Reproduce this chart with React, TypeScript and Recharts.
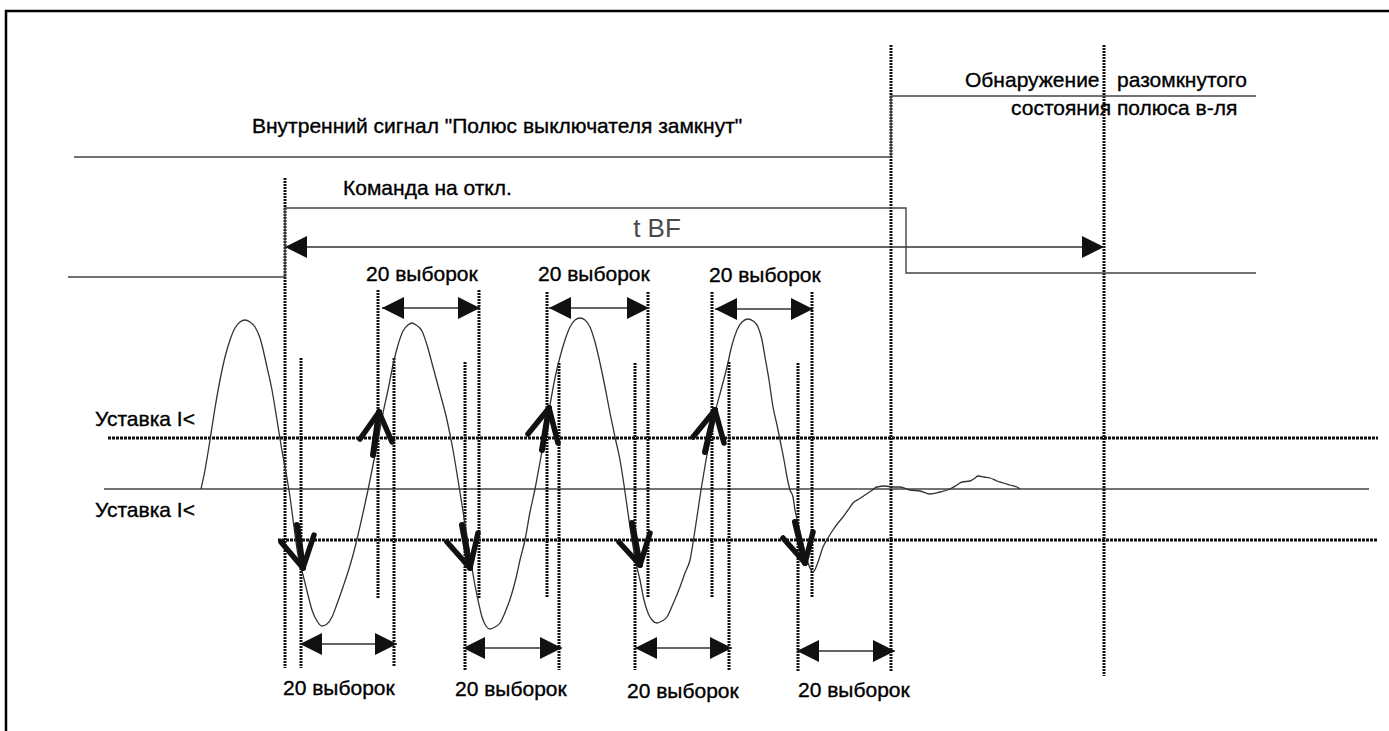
import React from 'react';
import { LineChart, Line, XAxis, YAxis, ReferenceLine, ReferenceDot } from 'recharts';

const W = 1389;
const H = 731;
const T_DOMAIN: [number, number] = [0, 1389];
const I_DOMAIN: [number, number] = [-242, 489];

// measured current waveform (time units, current units; 0 = baseline)
const waveT = [201,205,210,215,220,225,230,235,240,245,250,255,260,267,272,277,281,285,290,294,298,303,308,312,317,322,327,332,337,343,348,353,358,363,368,373,378,383,388,393,398,403,408,412,416,422,427,433,440,447,453,458,462,466,470,474,478,482,486,490,495,500,506,512,516,520,525,530,535,540,545,550,555,560,565,570,575,580,585,590,595,600,605,610,615,620,624,628,632,636,640,644,648,652,657,662,667,673,680,685,690,695,701,706,710,715,721,727,732,737,742,748,753,758,762,765,769,773,777,780,784,787,790,793,795,798,802,806,810,813,818,823,828,833,838,843,848,853,859,865,871,877,885,893,900,910,920,930,940,950,957,962,970,975,978,984,990,997,1003,1010,1017,1020];
const waveI = [0,19,49,81,109,132,149,161,167,169,167,162,151,122,99,69,44,22,-8,-38,-66,-86,-106,-121,-132,-137,-135,-128,-115,-98,-83,-66,-46,-24,-1,24,49,76,99,124,144,158,164,166,164,158,144,122,96,69,39,9,-16,-41,-66,-91,-111,-128,-137,-140,-138,-134,-121,-104,-89,-71,-51,-23,0,27,54,84,111,132,149,162,169,171,169,162,147,126,102,76,52,29,4,-24,-51,-74,-91,-111,-124,-131,-134,-132,-128,-115,-98,-84,-71,-41,-1,29,51,76,99,122,144,159,167,170,168,162,149,132,109,82,64,49,29,12,-1,-8,-21,-34,-51,-67,-79,-83,-73,-58,-49,-41,-34,-28,-21,-14,-10,-6,-2,2,3,2,2,-1,-2,-5,-3,0,4,7,8,11,13,12,11,8,6,4,2,0];

// setpoints
const SETPOINT_HIGH = 51;
const SETPOINT_LOW = -51;
const highSetpointSpan = [108, 1378];
const lowSetpointSpan = [278, 1378];
const zeroSpan = [104, 1369];

// binary signals
const poleClosedT = [74, 891, 891, 1256];
const poleClosedI = [332, 332, 393, 393];
const tripCmdT = [68, 285, 285, 906, 906, 1256];
const tripCmdI = [212, 212, 281, 281, 216, 216];

// vertical marker instants
const markerT = [285, 301, 378, 394, 465, 479, 547, 559, 635, 648, 712, 729, 798, 812, 891, 1104];
const markerTop = [311, 131, 199, 131, 127, 199, 197, 126, 126, 197, 197, 127, 126, 197, 444, 444];
const markerBottom = [-179, -179, -109, -178, -181, -109, -109, -181, -181, -109, -109, -181, -183, -109, -183, -187];

// double-headed interval arrows
const spanStart = [285, 382, 549, 715, 300, 463, 635, 797];
const spanEnd = [1104, 480, 649, 813, 397, 562, 732, 895];
const spanLevel = [242, 181, 181, 180, -155, -159, -159, -162];

// threshold-crossing arrows (tip, tail, left barb, right barb)
const crossTipT = [379, 549, 715, 303, 470, 640, 805];
const crossTipI = [77, 81, 79, -79, -79, -76, -74];
const crossTailT = [373, 542, 705, 297, 462, 632, 795];
const crossTailI = [34, 39, 37, -36, -36, -34, -33];
const crossLeftT = [360, 528, 693, 281, 447, 619, 783];
const crossLeftI = [50, 55, 52, -53, -53, -53, -49];
const crossRightT = [392, 558, 724, 314, 478, 650, 813];
const crossRightI = [47, 46, 46, -46, -44, -44, -43];

// text labels
const labelText = [
  'Внутренний сигнал "Полюс выключателя замкнут"',
  'Команда на откл.',
  'Обнаружение\u00A0\u00A0 разомкнутого',
  'состояния полюса в-ля',
  'Уставка I<',
  'Уставка I<',
  '20 выборок',
  '20 выборок',
  '20 выборок',
  '20 выборок',
  '20 выборок',
  '20 выборок',
  '20 выборок',
];
const labelT = [252, 343, 965, 1011, 95, 95, 366, 538, 709, 283, 455, 627, 798];
const labelI = [356, 294, 402, 374, 63, -28, 208, 208, 207, -206, -207, -209, -208];
const tbfText = 't BF';
const tbfT = 657;
const tbfI = 252;

const FONT = '"Liberation Sans", Arial, Helvetica, sans-serif';
const toPts = (ts: number[], is: number[]) => ts.map((t, k) => ({ x: t, y: is[k] }));

const waveData = toPts(waveT, waveI);
const poleData = toPts(poleClosedT, poleClosedI);
const tripData = toPts(tripCmdT, tripCmdI);

const headShape = (dir: 'left' | 'right') => (p: any) => {
  const cx = p.cx, cy = p.cy;
  const L = 22, h = 11;
  const bx = dir === 'left' ? cx + L : cx - L;
  return <polygon points={`${cx},${cy} ${bx},${cy - h} ${bx},${cy + h}`} fill="#111" />;
};

const textShape = (text: string, size: number, anchor: string, fill: string, sw: number) => (p: any) => (
  <text x={p.cx} y={p.cy} fontFamily={FONT} fontSize={size} textAnchor={anchor} fill={fill} stroke={fill} strokeWidth={sw} style={{ whiteSpace: 'pre' }}>
    {text}
  </text>
);

export default function App() {
  return (
    <div style={{ position: 'absolute', left: 0, top: 0, width: W, height: H, background: '#fff' }}>
      <LineChart width={W} height={H} margin={{ top: 0, right: 0, bottom: 0, left: 0 }}>
        <XAxis type="number" dataKey="x" domain={T_DOMAIN} hide allowDataOverflow />
        <YAxis type="number" dataKey="y" domain={I_DOMAIN} hide allowDataOverflow />

        {/* frame */}
        <ReferenceLine segment={[{ x: 6, y: 479 }, { x: 6, y: -242 }]} stroke="#000" strokeWidth={2.5} />
        <ReferenceLine segment={[{ x: 5, y: 478 }, { x: 1389, y: 478 }]} stroke="#000" strokeWidth={2.5} />

        {/* baseline and setpoints */}
        <ReferenceLine segment={[{ x: zeroSpan[0], y: 0 }, { x: zeroSpan[1], y: 0 }]} stroke="#444" strokeWidth={1.3} />
        <ReferenceLine segment={[{ x: highSetpointSpan[0], y: SETPOINT_HIGH }, { x: highSetpointSpan[1], y: SETPOINT_HIGH }]} stroke="#111" strokeWidth={3} strokeDasharray="3 1" />
        <ReferenceLine segment={[{ x: lowSetpointSpan[0], y: SETPOINT_LOW }, { x: lowSetpointSpan[1], y: SETPOINT_LOW }]} stroke="#111" strokeWidth={3} strokeDasharray="3 1" />

        {/* vertical markers */}
        {markerT.map((t, k) => (
          <ReferenceLine key={'m' + k} segment={[{ x: t, y: markerTop[k] }, { x: t, y: markerBottom[k] }]} stroke="#111" strokeWidth={3} strokeDasharray="2 1" />
        ))}

        <Line data={poleData} dataKey="y" type="linear" stroke="#444" strokeWidth={1.4} dot={false} activeDot={false} isAnimationActive={false} />
        <Line data={tripData} dataKey="y" type="linear" stroke="#444" strokeWidth={1.4} dot={false} activeDot={false} isAnimationActive={false} />
        <Line data={waveData} dataKey="y" type="monotone" stroke="#333" strokeWidth={1.3} dot={false} activeDot={false} isAnimationActive={false} />

        {/* interval arrows */}
        {spanStart.map((s, k) => (
          <ReferenceLine key={'s' + k} segment={[{ x: s, y: spanLevel[k] }, { x: spanEnd[k], y: spanLevel[k] }]} stroke="#333" strokeWidth={1.5} />
        ))}
        {spanStart.map((s, k) => (
          <ReferenceDot key={'hl' + k} x={s} y={spanLevel[k]} r={0} shape={headShape('left')} />
        ))}
        {spanEnd.map((e, k) => (
          <ReferenceDot key={'hr' + k} x={e} y={spanLevel[k]} r={0} shape={headShape('right')} />
        ))}

        {/* threshold-crossing arrows */}
        {crossTipT.map((t, k) => (
          <ReferenceLine key={'ca' + k} segment={[{ x: crossTailT[k], y: crossTailI[k] }, { x: t, y: crossTipI[k] }]} stroke="#111" strokeWidth={6} strokeLinecap="round" />
        ))}
        {crossTipT.map((t, k) => (
          <ReferenceLine key={'cl' + k} segment={[{ x: crossLeftT[k], y: crossLeftI[k] }, { x: t, y: crossTipI[k] }]} stroke="#111" strokeWidth={5.5} strokeLinecap="round" />
        ))}
        {crossTipT.map((t, k) => (
          <ReferenceLine key={'cr' + k} segment={[{ x: crossRightT[k], y: crossRightI[k] }, { x: t, y: crossTipI[k] }]} stroke="#111" strokeWidth={5.5} strokeLinecap="round" />
        ))}

        {/* labels */}
        {labelText.map((txt, k) => (
          <ReferenceDot key={'t' + k} x={labelT[k]} y={labelI[k]} r={0} shape={textShape(txt, 21, 'start', '#000', 0.35)} />
        ))}
        <ReferenceDot x={tbfT} y={tbfI} r={0} shape={textShape(tbfText, 26, 'middle', '#4a4a4a', 0)} />
      </LineChart>
    </div>
  );
}
